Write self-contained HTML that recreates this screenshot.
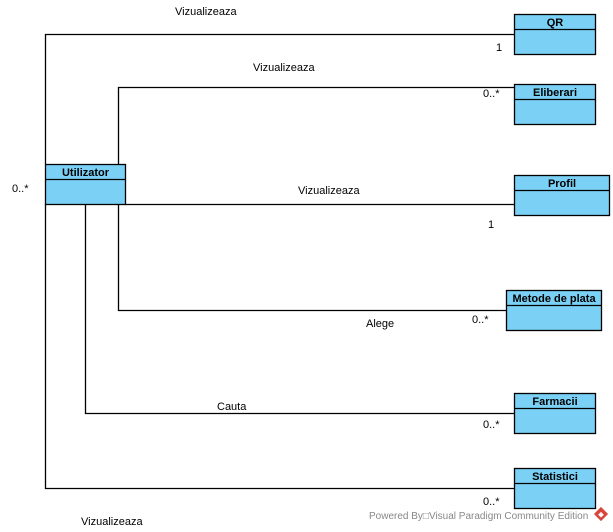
<!DOCTYPE html>
<html><head><meta charset="utf-8"><style>
html,body{margin:0;padding:0;background:#fff;}
svg{display:block;}
text{font-family:"Liberation Sans",Arial,sans-serif;font-size:11px;fill:#000;}
.b{font-weight:bold;}
</style></head><body>
<svg width="613" height="532" viewBox="0 0 613 532">
<g fill="none" stroke="#000" stroke-width="1.3">
<polyline points="45.5,164 45.5,34.5 514,34.5"/>
<polyline points="118.5,164 118.5,87.5 514,87.5"/>
<line x1="125" y1="204.5" x2="514" y2="204.5"/>
<polyline points="118.5,204 118.5,310.5 506,310.5"/>
<polyline points="85.5,204 85.5,413.5 514,413.5"/>
<polyline points="45.5,204 45.5,488.5 514,488.5"/>
</g>
<g fill="#7bd0f5" stroke="#000" stroke-width="1.3">
<rect x="45.5" y="164.5" width="80" height="40"/>
<rect x="514.5" y="14.5" width="81" height="40"/>
<rect x="514.5" y="84.5" width="81" height="40"/>
<rect x="514.5" y="175.5" width="95" height="40"/>
<rect x="506.5" y="290.5" width="95" height="40"/>
<rect x="514.5" y="393.5" width="81" height="40"/>
<rect x="514.5" y="468.5" width="81" height="40"/>
</g>
<g stroke="#000" stroke-width="1.3">
<line x1="45" y1="179.5" x2="126" y2="179.5"/>
<line x1="514" y1="29.5" x2="596" y2="29.5"/>
<line x1="514" y1="99.5" x2="596" y2="99.5"/>
<line x1="514" y1="190.5" x2="610" y2="190.5"/>
<line x1="506" y1="305.5" x2="602" y2="305.5"/>
<line x1="514" y1="408.5" x2="596" y2="408.5"/>
<line x1="514" y1="483.5" x2="596" y2="483.5"/>
</g>
<g class="b" text-anchor="middle">
<text x="85.5" y="176" class="b">Utilizator</text>
<text x="555" y="26" class="b">QR</text>
<text x="555" y="96" class="b">Eliberari</text>
<text x="562" y="187" class="b">Profil</text>
<text x="554" y="302" class="b">Metode de plata</text>
<text x="555" y="405" class="b">Farmacii</text>
<text x="555" y="480" class="b">Statistici</text>
</g>
<text x="175" y="15">Vizualizeaza</text>
<text x="253" y="71">Vizualizeaza</text>
<text x="298" y="194">Vizualizeaza</text>
<text x="81" y="525">Vizualizeaza</text>
<text x="366" y="327">Alege</text>
<text x="217" y="410">Cauta</text>
<text x="496" y="51">1</text>
<text x="483" y="97">0..*</text>
<text x="488" y="228">1</text>
<text x="472" y="323">0..*</text>
<text x="483" y="428">0..*</text>
<text x="483" y="505">0..*</text>
<text x="12" y="192">0..*</text>
<text x="369" y="519" style="font-size:10px;fill:#888">Powered By□Visual Paradigm Community Edition</text>
<g transform="translate(601,514) rotate(45)">
<rect x="-5" y="-5" width="10" height="10" fill="#d9453b"/>
<rect x="-1.5" y="-1.5" width="4" height="4" fill="#fff"/>
</g>
</svg>
</body></html>
